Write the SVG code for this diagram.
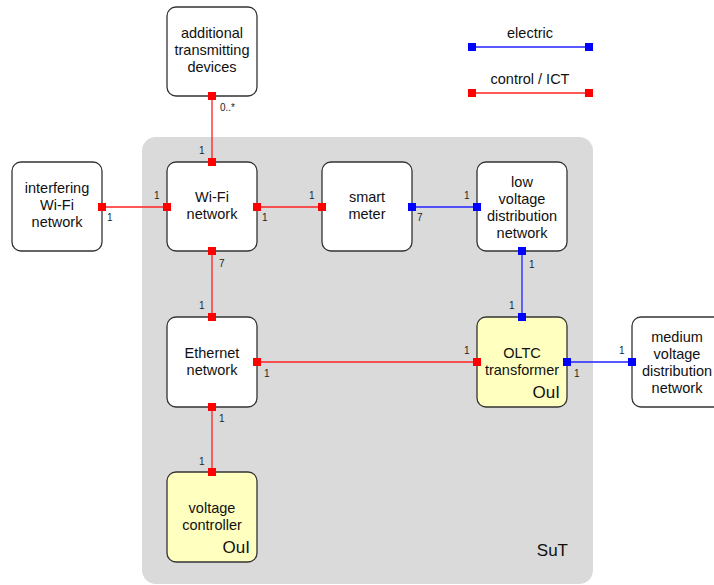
<svg xmlns="http://www.w3.org/2000/svg" width="714" height="585" viewBox="0 0 714 585">
<style>
.node{fill:#ffffff;stroke:#333333;stroke-width:1.3}
.oui{fill:#ffffc0;stroke:#333333;stroke-width:1.3}
.lbl{font-family:"Liberation Sans",Arial,sans-serif;font-size:14.5px;fill:#111;text-anchor:middle}
.m{font-family:"Liberation Sans",Arial,sans-serif;font-size:10px;fill:#222}
.big{font-family:"Liberation Sans",Arial,sans-serif;font-size:17px;fill:#111;text-anchor:end}
.red{stroke:#ff2020;stroke-width:1.3;fill:none}
.blue{stroke:#2020ff;stroke-width:1.3;fill:none}
.pr{fill:#ff0000}
.pb{fill:#0000ff}
</style>
<rect id="SuT" x="142" y="137" width="451" height="447" rx="14" fill="#dadada"/>
<text class="big" x="568" y="556">SuT</text>

<g id="connectors">
<line class="red" x1="212" y1="96" x2="212" y2="162"/>
<line class="red" x1="102" y1="207" x2="167" y2="207"/>
<line class="red" x1="257" y1="207" x2="322" y2="207"/>
<line class="blue" x1="412" y1="207" x2="477" y2="207"/>
<line class="red" x1="212" y1="251" x2="212" y2="317"/>
<line class="blue" x1="522" y1="251" x2="522" y2="317"/>
<line class="red" x1="257" y1="362" x2="477" y2="362"/>
<line class="blue" x1="567" y1="362" x2="632" y2="362"/>
<line class="red" x1="212" y1="407" x2="212" y2="472"/>
<line class="blue" x1="472" y1="47" x2="589" y2="47"/>
<line class="red" x1="472" y1="93" x2="589" y2="93"/>
</g>

<g id="legend">
<text class="lbl" x="530" y="38">electric</text>
<text class="lbl" x="530" y="84">control / ICT</text>
<rect class="pb" x="468" y="43" width="8" height="8"/>
<rect class="pb" x="585" y="43" width="8" height="8"/>
<rect class="pr" x="468" y="89" width="8" height="8"/>
<rect class="pr" x="585" y="89" width="8" height="8"/>
</g>

<g id="additional">
<rect class="node" x="167" y="7" width="90" height="89" rx="9"/>
<text class="lbl" x="212" y="38">additional</text>
<text class="lbl" x="212" y="55">transmitting</text>
<text class="lbl" x="212" y="72">devices</text>
<rect class="pr" x="208" y="92" width="8" height="8"/>
<text class="m" x="220" y="111">0..*</text>
</g>

<g id="interfering">
<rect class="node" x="12" y="162" width="90" height="89" rx="9"/>
<text class="lbl" x="57" y="193">interfering</text>
<text class="lbl" x="57" y="210">Wi-Fi</text>
<text class="lbl" x="57" y="227">network</text>
<rect class="pr" x="98" y="203" width="8" height="8"/>
<text class="m" x="107" y="221">1</text>
</g>

<g id="wifi">
<rect class="node" x="167" y="162" width="90" height="89" rx="9"/>
<text class="lbl" x="212" y="202">Wi-Fi</text>
<text class="lbl" x="212" y="219">network</text>
<rect class="pr" x="208" y="158" width="8" height="8"/>
<rect class="pr" x="163" y="203" width="8" height="8"/>
<rect class="pr" x="253" y="203" width="8" height="8"/>
<rect class="pr" x="208" y="247" width="8" height="8"/>
<text class="m" x="199" y="154">1</text>
<text class="m" x="154" y="199">1</text>
<text class="m" x="262" y="221">1</text>
<text class="m" x="219" y="267">7</text>
</g>

<g id="smartmeter">
<rect class="node" x="322" y="162" width="90" height="89" rx="9"/>
<text class="lbl" x="367" y="202">smart</text>
<text class="lbl" x="367" y="219">meter</text>
<rect class="pr" x="318" y="203" width="8" height="8"/>
<rect class="pb" x="408" y="203" width="8" height="8"/>
<text class="m" x="309" y="199">1</text>
<text class="m" x="417" y="221">7</text>
</g>

<g id="lowvoltage">
<rect class="node" x="477" y="162" width="90" height="89" rx="9"/>
<text class="lbl" x="522" y="187">low</text>
<text class="lbl" x="522" y="204">voltage</text>
<text class="lbl" x="522" y="221">distribution</text>
<text class="lbl" x="522" y="238">network</text>
<rect class="pb" x="473" y="203" width="8" height="8"/>
<rect class="pb" x="518" y="247" width="8" height="8"/>
<text class="m" x="464" y="199">1</text>
<text class="m" x="529" y="268">1</text>
</g>

<g id="ethernet">
<rect class="node" x="167" y="317" width="90" height="90" rx="9"/>
<text class="lbl" x="212" y="358">Ethernet</text>
<text class="lbl" x="212" y="375">network</text>
<rect class="pr" x="208" y="313" width="8" height="8"/>
<rect class="pr" x="253" y="358" width="8" height="8"/>
<rect class="pr" x="208" y="403" width="8" height="8"/>
<text class="m" x="199" y="309">1</text>
<text class="m" x="264" y="377">1</text>
<text class="m" x="219" y="422">1</text>
</g>

<g id="oltc">
<rect class="oui" x="477" y="317" width="90" height="90" rx="9"/>
<text class="lbl" x="522" y="358">OLTC</text>
<text class="lbl" x="522" y="375">transformer</text>
<text class="big" x="560" y="398">OuI</text>
<rect class="pb" x="518" y="313" width="8" height="8"/>
<rect class="pr" x="473" y="358" width="8" height="8"/>
<rect class="pb" x="563" y="358" width="8" height="8"/>
<text class="m" x="509" y="309">1</text>
<text class="m" x="464" y="354">1</text>
<text class="m" x="574" y="377">1</text>
</g>

<g id="mediumvoltage">
<rect class="node" x="632" y="317" width="95" height="90" rx="9"/>
<text class="lbl" x="677" y="342">medium</text>
<text class="lbl" x="677" y="359">voltage</text>
<text class="lbl" x="677" y="376">distribution</text>
<text class="lbl" x="677" y="393">network</text>
<rect class="pb" x="628" y="358" width="8" height="8"/>
<text class="m" x="619" y="354">1</text>
</g>

<g id="voltagecontroller">
<rect class="oui" x="167" y="472" width="90" height="90" rx="9"/>
<text class="lbl" x="212" y="513">voltage</text>
<text class="lbl" x="212" y="530">controller</text>
<text class="big" x="250" y="553">OuI</text>
<rect class="pr" x="208" y="468" width="8" height="8"/>
<text class="m" x="199" y="465">1</text>
</g>
</svg>
